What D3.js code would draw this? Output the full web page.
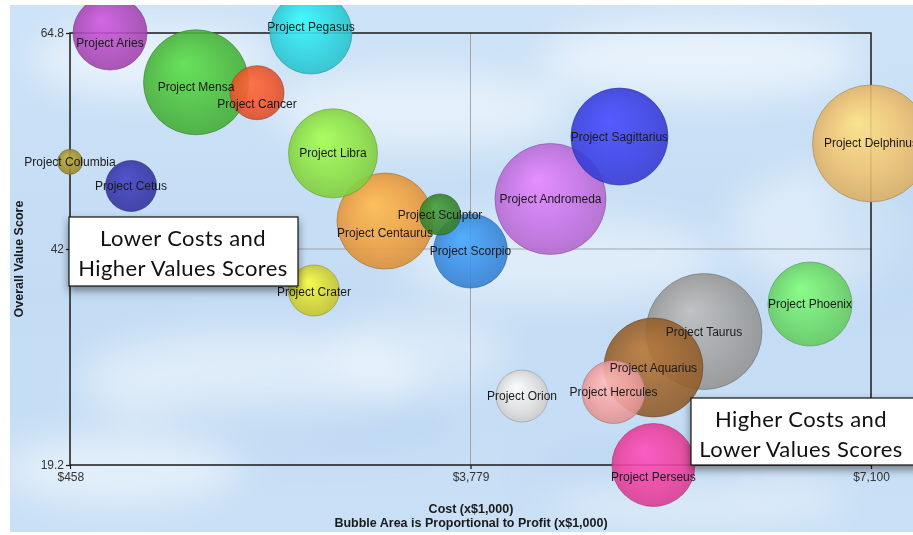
<!DOCTYPE html>
<html><head><meta charset="utf-8">
<script src="https://cdn.jsdelivr.net/npm/d3@7"></script>
<style>html,body{margin:0;padding:0;background:#fff;}svg{display:block;}</style>
</head><body>
<svg id="c" width="913" height="535"></svg>
<script>
// ---- data ----
const projects = ["Project Aries","Project Pegasus","Project Mensa","Project Cancer","Project Libra","Project Columbia","Project Cetus","Project Centaurus","Project Sculptor","Project Scorpio","Project Crater","Project Andromeda","Project Sagittarius","Project Delphinus","Project Phoenix","Project Taurus","Project Aquarius","Project Hercules","Project Orion","Project Perseus"];
const cost   = [790, 2456, 1503, 2009, 2639, 458, 964, 3070, 3526, 3779, 2481, 4442, 5014, 7100, 6594, 5715, 5296, 4965, 4206, 5296];
const value  = [64.8, 64.8, 59.6, 58.5, 52.1, 51.2, 48.65, 44.95, 45.64, 41.79, 37.62, 47.28, 53.87, 53.14, 36.19, 33.29, 29.49, 26.9, 26.48, 19.2];
const profit = [1369, 1681, 2756, 729, 1980, 156, 650, 2304, 420, 1369, 650, 3080, 2352, 3420, 1764, 3364, 2450, 992, 676, 1722];
const colors = ["#b24cc0","#2fd6e2","#4cbf3e","#f0582e","#8ee246","#a89632","#3a3aae","#f0a142","#3b8a30","#3b8fe6","#d8d836","#c673e4","#3d42e8","#efc272","#6fde6c","#a3a3a3","#9e6630","#f2a3a3","#e2e2e2","#ef43a2"];
const xTicks = [458, 3779, 7100];
const yTicks = [19.2, 42, 64.8];
const xTickLabels = ["$458","$3,779","$7,100"];
const yTickLabels = ["19.2","42","64.8"];
const xTitle = "Cost (x$1,000)";
const xSubTitle = "Bubble Area is Proportional to Profit (x$1,000)";
const yTitle = "Overall Value Score";
const note1 = ["Lower Costs and","Higher Values Scores"];
const note2 = ["Higher Costs and","Lower Values Scores"];

// ---- layout ----
const svg = d3.select("#c");
const bg = {x:10, y:5, w:903, h:527};
const plot = {l:70, t:33, r:871, b:465};
const labelNudge = {"Project Aries":10,"Project Pegasus":-6,"Project Cancer":11,"Project Centaurus":12,"Project Perseus":12,"Project Mensa":5,"Project Crater":2};

const x = d3.scaleLinear().domain([458, 7100]).range([plot.l, plot.r]);
const y = d3.scaleLinear().domain([19.2, 64.8]).range([plot.b, plot.t]);
const r = d3.scaleSqrt().domain([0, 3420]).range([0, 58.5]);

const defs = svg.append("defs");
defs.append("clipPath").attr("id","bgclip").append("rect")
  .attr("x",bg.x).attr("y",bg.y).attr("width",bg.w).attr("height",bg.h);
const blur = defs.append("filter").attr("id","blur").attr("x","-50%").attr("y","-50%").attr("width","200%").attr("height","200%");
blur.append("feGaussianBlur").attr("stdDeviation",18);
const sh = defs.append("filter").attr("id","shadow").attr("x","-20%").attr("y","-20%").attr("width","140%").attr("height","160%");
sh.append("feDropShadow").attr("dx",0).attr("dy",4).attr("stdDeviation",4).attr("flood-color","#000").attr("flood-opacity",0.45);
const skyG = defs.append("linearGradient").attr("id","sky").attr("x1",0).attr("y1",0).attr("x2",0).attr("y2",1);
skyG.append("stop").attr("offset","0%").attr("stop-color","#cde3f7");
skyG.append("stop").attr("offset","55%").attr("stop-color","#c3dcf4");
skyG.append("stop").attr("offset","100%").attr("stop-color","#c9e0f6");

const root = svg.append("g").attr("clip-path","url(#bgclip)");
root.append("rect").attr("x",bg.x).attr("y",bg.y).attr("width",bg.w).attr("height",bg.h).attr("fill","url(#sky)");
// cloud-like soft patches
const clouds = [[150,60,120,35,0.55],[420,110,150,40,0.5],[700,60,160,40,0.55],[560,260,160,45,0.45],[250,380,170,50,0.45],[820,230,90,60,0.4],[120,470,120,35,0.5],[700,500,150,25,0.4],[420,350,90,40,0.35]];
const cg = root.append("g").attr("filter","url(#blur)");
clouds.forEach(c=>cg.append("ellipse").attr("cx",c[0]).attr("cy",c[1]).attr("rx",c[2]).attr("ry",c[3]).attr("fill","#ffffff").attr("opacity",c[4]));
const darks = [[300,420,150,25,0.25],[650,470,120,20,0.25],[880,200,50,80,0.2]];
darks.forEach(c=>cg.append("ellipse").attr("cx",c[0]).attr("cy",c[1]).attr("rx",c[2]).attr("ry",c[3]).attr("fill","#8fbde8").attr("opacity",c[4]));

// midlines
root.append("line").attr("x1",x(3779)).attr("x2",x(3779)).attr("y1",plot.t).attr("y2",plot.b).attr("stroke","#8a8a8a").attr("stroke-width",1).attr("opacity",0.7);
root.append("line").attr("x1",plot.l).attr("x2",plot.r).attr("y1",y(42)).attr("y2",y(42)).attr("stroke","#8a8a8a").attr("stroke-width",1).attr("opacity",0.7);

// frame
root.append("rect").attr("x",plot.l).attr("y",plot.t).attr("width",plot.r-plot.l).attr("height",plot.b-plot.t)
  .attr("fill","none").attr("stroke","#1a1a1a").attr("stroke-width",1.5);

// axes
const tf = "Liberation Sans, Arial, sans-serif";
const fmtY = d => yTickLabels[yTicks.indexOf(d)];
const fmtX = d => xTickLabels[xTicks.indexOf(d)];
const ya = root.append("g").attr("transform",`translate(${plot.l},0)`).call(d3.axisLeft(y).tickValues(yTicks).tickFormat(fmtY).tickSize(4).tickPadding(2));
const xa = root.append("g").attr("transform",`translate(0,${plot.b})`).call(d3.axisBottom(x).tickValues(xTicks).tickFormat(fmtX).tickSize(4).tickPadding(3));
[ya,xa].forEach(a=>{
  a.select(".domain").remove();
  a.selectAll(".tick line").attr("stroke","#1a1a1a").attr("stroke-width",1.2);
  a.selectAll("text").attr("font-family",tf).attr("font-size",12).attr("fill","#333");
});
xa.selectAll(".tick").filter(d=>d===458).select("text").attr("text-anchor","start").attr("dx",-13);

// bubbles
const data = projects.map((p,i)=>({name:p,cost:cost[i],value:value[i],profit:profit[i],color:colors[i]}));
data.forEach((d,i)=>{
  const c = d3.color(d.color);
  const g = defs.append("radialGradient").attr("id","g"+i).attr("cx","50%").attr("cy","50%").attr("r","55%").attr("fx","38%").attr("fy","32%");
  g.append("stop").attr("offset","0%").attr("stop-color",c.brighter(0.45));
  g.append("stop").attr("offset","60%").attr("stop-color",d.color);
  g.append("stop").attr("offset","100%").attr("stop-color",c.darker(0.35));
  d.grad = "url(#g"+i+")";
});
const order = data.slice().sort((a,b)=>b.profit-a.profit);
root.append("g").selectAll("circle").data(order).join("circle")
  .attr("cx",d=>x(d.cost)).attr("cy",d=>y(d.value)).attr("r",d=>r(d.profit))
  .attr("fill",d=>d.grad).attr("fill-opacity",0.9)
  .attr("stroke",d=>d3.color(d.color).darker(1.2)).attr("stroke-opacity",0.55).attr("stroke-width",1);
root.append("g").selectAll("text").data(order).join("text")
  .attr("x",d=>x(d.cost)).attr("y",d=>y(d.value)+4+(labelNudge[d.name]||0))
  .attr("text-anchor","middle").attr("font-family",tf).attr("font-size",12)
  .attr("fill","#1a1a1a").text(d=>d.name);

// axis titles
root.append("text").attr("x",471).attr("y",513).attr("text-anchor","middle").attr("font-family",tf).attr("font-size",12.5).attr("font-weight","bold").attr("fill","#1a1a1a").text(xTitle);
root.append("text").attr("x",471).attr("y",527).attr("text-anchor","middle").attr("font-family",tf).attr("font-size",12.5).attr("font-weight","bold").attr("fill","#1a1a1a").text(xSubTitle);
root.append("text").attr("transform",`translate(23,${y(42)+10}) rotate(-90)`).attr("text-anchor","middle").attr("font-family",tf).attr("font-size",12.5).attr("font-weight","bold").attr("fill","#1a1a1a").text(yTitle);

// note boxes
function note(bx,by,bw,bh,lines,cx){
  const g = root.append("g");
  g.append("rect").attr("x",bx).attr("y",by).attr("width",bw).attr("height",bh).attr("fill","#fff").attr("stroke","#111").attr("stroke-width",1.2).attr("filter","url(#shadow)");
  lines.forEach((t,i)=>g.append("text").attr("x",cx).attr("y",by+29+i*30).attr("text-anchor","middle")
    .attr("font-family","Lato, 'Open Sans', sans-serif").attr("font-size",22).attr("letter-spacing",0.4).attr("fill","#111").text(t));
}
note(69,217,229,69,note1,183);
note(691,398,240,67,note2,801);
</script>
</body></html>
